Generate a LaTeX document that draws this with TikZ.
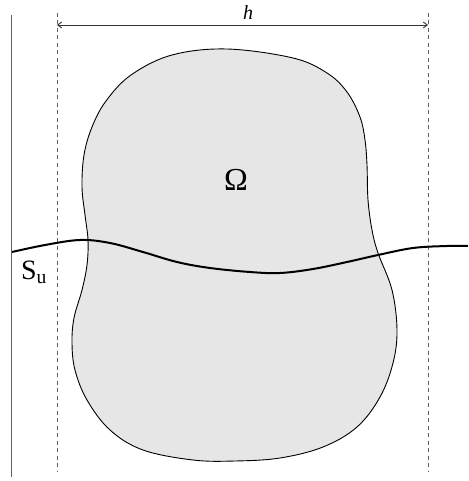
\documentclass[tikz,border=0pt]{standalone}
\usepackage{fontspec}
\setmainfont{Liberation Serif}
\usepackage{xcolor}
\usepackage{tikz}
\usetikzlibrary{positioning, arrows.meta, calc}
\definecolor{domaingray}{HTML}{E6E6E6}
\definecolor{guidegray}{HTML}{606060}
\tikzset{
  guide/.style={draw=guidegray, line width=0.9pt, dashed, dash pattern=on 4pt off 3.5pt},
  wall/.style={draw=guidegray, line width=1pt},
  bodyregion/.style={fill=domaingray, draw=black, line width=0.9pt},
  crack/.style={draw=black, line width=2pt},
  dimline/.style={draw=black!80, line width=0.9pt, {Straight Barb[length=4pt,width=6pt]}-{Straight Barb[length=4pt,width=6pt]}}
}

\begin{document}
\begin{tikzpicture}[x=1pt, y=-1pt]
    \useasboundingbox (0,0) rectangle (468,481);
    % boundary and guides
    \coordinate (walltop) at (11,15);
    \coordinate (wallbot) at (11,477);
    \draw[wall] (walltop) -- (wallbot);
    \coordinate (lefttop) at (57,13);
    \coordinate (leftbot) at (57,472);
    \coordinate (righttop) at (428,13);
    \coordinate (rightbot) at (428,472);
    \draw[guide] (lefttop) -- (leftbot);
    \draw[guide] (righttop) -- (rightbot);
    % width h
    \coordinate (hleft) at (57,25);
    \coordinate (hright) at (428,25);
    \draw[dimline] (hleft) -- (hright);
    \node[inner sep=0pt] (hlabel) at (248,13) {\fontsize{20}{24}\selectfont\textit{h}};
    % body
    \draw[bodyregion] plot[smooth cycle, tension=0.6] coordinates {
      (227,49) (293,58) (327,73) (347,92) (360,117) (365,140)
      (367,165) (368,200) (372,230) (378,253) (392,290) (397,330) (393,363)
      (380,397) (357,427) (323,447) (280,458) (235,461) (193,460) (143,450)
      (110,430) (87,400) (75,370) (72,343) (74,318) (82,290) (87,265)
      (88,240) (85,215) (82,187) (84,155) (92,127) (106,101) (131,75)
      (172,55)};
    \node[inner sep=0pt] (omega) at (236,180) {\fontsize{32}{38}\selectfont Ω};
    % surface S_u
    \draw[crack] plot[smooth, tension=0.6] coordinates {
      (12,252) (45,245) (80,240) (110,243) (143,252) (177,262) (210,268)
      (250,272) (280,273) (313,269) (347,262) (378,255) (413,248) (447,246) (468,246)};
    \node[inner sep=0pt] (sulabel) at (34,272) {\fontsize{28}{32}\selectfont S\textsubscript{u}};
  \end{tikzpicture}
\end{document}
